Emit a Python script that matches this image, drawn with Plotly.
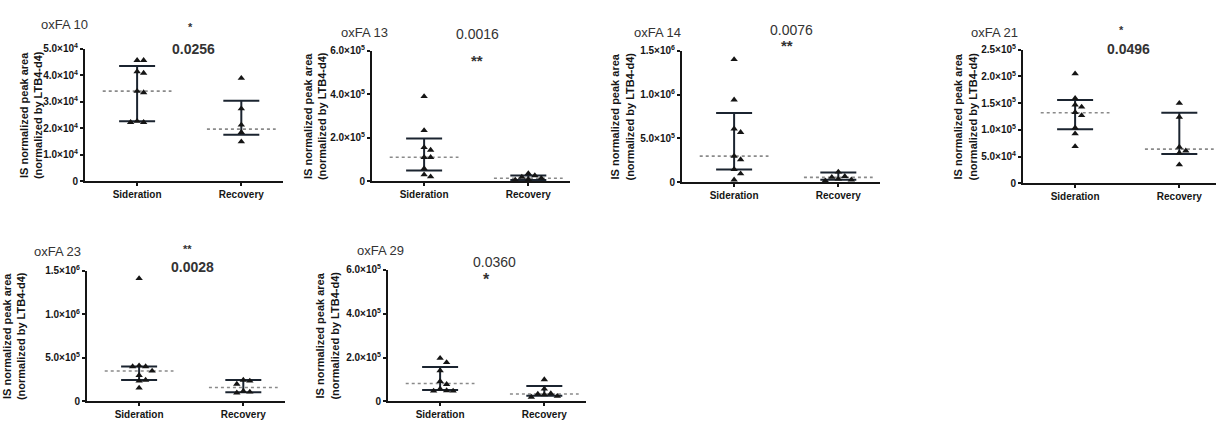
import plotly.graph_objects as go

W, H = 1217, 423
FONT = "Liberation Sans, Arial, sans-serif"

categories = ["Sideration", "Recovery"]
panel_titles = ["oxFA 10", "oxFA 13", "oxFA 14", "oxFA 21", "oxFA 23", "oxFA 29"]

# ---- data ----
sid_10 = [4.56e4, 4.56e4, 4.14e4, 4.08e4, 3.40e4, 3.35e4, 2.27e4, 2.23e4, 2.23e4]
rec_10 = [3.89e4, 2.74e4, 2.13e4, 1.85e4, 1.50e4]
med_10 = [3.40e4, 1.97e4]
q1_10 = [2.27e4, 1.76e4]
q3_10 = [4.35e4, 3.04e4]

sid_13 = [3.9e5, 2.34e5, 1.56e5, 1.44e5, 1.11e5, 1.11e5, 0.59e5, 0.31e5, 0.22e5]
rec_13 = [0.37e5, 0.27e5, 0.20e5, 0.15e5, 0.10e5, 0.07e5]
med_13 = [1.11e5, 0.15e5]
q1_13 = [0.50e5, 0.07e5]
q3_13 = [1.97e5, 0.27e5]

sid_14 = [1.40e6, 0.94e6, 0.61e6, 0.57e6, 0.30e6, 0.26e6, 0.15e6, 0.10e6, 0.03e6]
rec_14 = [0.12e6, 0.07e6, 0.06e6, 0.04e6, 0.03e6, 0.02e6]
med_14 = [0.30e6, 0.058e6]
q1_14 = [0.147e6, 0.03e6]
q3_14 = [0.79e6, 0.113e6]

sid_21 = [2.05e5, 1.59e5, 1.47e5, 1.43e5, 1.33e5, 1.27e5, 1.04e5, 0.93e5, 0.69e5]
rec_21 = [1.50e5, 1.24e5, 0.68e5, 0.61e5, 0.57e5, 0.35e5]
med_21 = [1.32e5, 0.64e5]
q1_21 = [1.01e5, 0.55e5]
q3_21 = [1.56e5, 1.32e5]

sid_23 = [1.41e6, 0.41e6, 0.40e6, 0.40e6, 0.35e6, 0.30e6, 0.245e6, 0.235e6, 0.155e6]
rec_23 = [0.245e6, 0.235e6, 0.20e6, 0.12e6, 0.11e6, 0.10e6]
med_23 = [0.35e6, 0.16e6]
q1_23 = [0.245e6, 0.105e6]
q3_23 = [0.40e6, 0.245e6]

sid_29 = [1.97e5, 1.78e5, 1.41e5, 0.92e5, 0.78e5, 0.57e5, 0.50e5, 0.48e5, 0.48e5]
rec_29 = [1.0e5, 0.57e5, 0.36e5, 0.34e5, 0.31e5, 0.24e5, 0.20e5]
med_29 = [0.82e5, 0.34e5]
q1_29 = [0.52e5, 0.26e5]
q3_29 = [1.57e5, 0.70e5]

ticks_10 = [0, 1e4, 2e4, 3e4, 4e4, 5e4]
ticklabels_10 = ["0", "1.0×10<sup>4</sup>", "2.0×10<sup>4</sup>", "3.0×10<sup>4</sup>", "4.0×10<sup>4</sup>", "5.0×10<sup>4</sup>"]
ticks_13 = [0, 2e5, 4e5, 6e5]
ticklabels_13 = ["0", "2.0×10<sup>5</sup>", "4.0×10<sup>5</sup>", "6.0×10<sup>5</sup>"]
ticks_14 = [0, 5e5, 1e6, 1.5e6]
ticklabels_14 = ["0", "5.0×10<sup>5</sup>", "1.0×10<sup>6</sup>", "1.5×10<sup>6</sup>"]
ticks_21 = [0, 5e4, 1e5, 1.5e5, 2e5, 2.5e5]
ticklabels_21 = ["0", "5.0×10<sup>4</sup>", "1.0×10<sup>5</sup>", "1.5×10<sup>5</sup>", "2.0×10<sup>5</sup>", "2.5×10<sup>5</sup>"]
ticks_23 = [0, 5e5, 1e6, 1.5e6]
ticklabels_23 = ["0", "5.0×10<sup>5</sup>", "1.0×10<sup>6</sup>", "1.5×10<sup>6</sup>"]
ticks_29 = [0, 2e5, 4e5, 6e5]
ticklabels_29 = ["0", "2.0×10<sup>5</sup>", "4.0×10<sup>5</sup>", "6.0×10<sup>5</sup>"]

p_values = ["0.0256", "0.0016", "0.0076", "0.0496", "0.0028", "0.0360"]
stars = ["*", "**", "**", "*", "**", "*"]

panels = [
    dict(sid=sid_10, rec=rec_10, med=med_10, q1=q1_10, q3=q3_10, ticks=ticks_10, labels=ticklabels_10),
    dict(sid=sid_13, rec=rec_13, med=med_13, q1=q1_13, q3=q3_13, ticks=ticks_13, labels=ticklabels_13),
    dict(sid=sid_14, rec=rec_14, med=med_14, q1=q1_14, q3=q3_14, ticks=ticks_14, labels=ticklabels_14),
    dict(sid=sid_21, rec=rec_21, med=med_21, q1=q1_21, q3=q3_21, ticks=ticks_21, labels=ticklabels_21),
    dict(sid=sid_23, rec=rec_23, med=med_23, q1=q1_23, q3=q3_23, ticks=ticks_23, labels=ticklabels_23),
    dict(sid=sid_29, rec=rec_29, med=med_29, q1=q1_29, q3=q3_29, ticks=ticks_29, labels=ticklabels_29),
]

# ---- layout geometry (pixels) ----
# (axis x start, axis x end, y of zero, y of top tick)
geom = [
    (85, 283, 180, 43),
    (372, 570, 180, 45),
    (682, 880, 181, 45),
    (1023, 1216, 182, 44),
    (87, 285, 407, 272),
    (388, 586, 407, 271),
]
UNIT_PX = 198 / 1.9  # pixels per category unit
ytitle_x = [31, 315, 622, 965, 14, 327]
title_pos = [(39, 18), (339, 26), (632, 26), (969, 26), (32, 252), (355, 251)]
# (star x, star y, star size, p x, p y, p size, p bold)
sig_pos = [
    (190, 21, 11, 193, 43, 14, True),
    (477, 55, 15, 477, 28, 14, False),
    (787, 40, 15, 791, 24, 14, False),
    (1121, 24, 11, 1128, 43, 14, True),
    (187, 250, 11, 192, 268, 14, True),
    (486, 281, 16, 494, 263, 14, False),
]

INK = "#151515"
BAR = "#1b2430"
MED = "#8a8a8a"


def swarm(values, px_per_val, size=6.5, step=6.5):
    placed = []
    offs = []
    for v in values:
        yp = v * px_per_val
        chosen = 0.0
        for k in [0, 1, -1, 2, -2, 3, -3]:
            xp = k * step
            if all(abs(xp - a) >= size * 0.85 or abs(yp - b) >= size * 0.85 for a, b in placed):
                chosen = xp
                break
        placed.append((chosen, yp))
        offs.append(chosen / UNIT_PX)
    return offs


fig = go.Figure()
annotations = []

for i, (p, g) in enumerate(zip(panels, geom)):
    n = i + 1
    xs, xe, yz, yt = g
    xa = "x" if n == 1 else f"x{n}"
    ya = "y" if n == 1 else f"y{n}"
    top = p["ticks"][-1]
    px_per_val = (yz - yt) / top
    xr_end = -0.5 + (xe - xs) / UNIT_PX

    for ci, vals in enumerate([p["sid"], p["rec"]]):
        # median (dotted grey line)
        fig.add_trace(go.Scatter(
            x=[ci - 0.33, ci + 0.33], y=[p["med"][ci]] * 2, mode="lines",
            line=dict(color=MED, width=1.6, dash="dot"), xaxis=xa, yaxis=ya,
            hoverinfo="skip", cliponaxis=False))
        # interquartile range whisker
        fig.add_trace(go.Scatter(
            x=[ci], y=[p["med"][ci]], mode="markers", marker=dict(size=1, color="rgba(0,0,0,0)"),
            error_y=dict(type="data", symmetric=False,
                         array=[p["q3"][ci] - p["med"][ci]],
                         arrayminus=[p["med"][ci] - p["q1"][ci]],
                         color=BAR, thickness=2, width=18),
            xaxis=xa, yaxis=ya, cliponaxis=False))
        # individual values
        offs = swarm(vals, px_per_val)
        fig.add_trace(go.Scatter(
            x=[ci + o for o in offs], y=vals, mode="markers",
            marker=dict(symbol="triangle-up", size=6.5, color=INK),
            xaxis=xa, yaxis=ya, cliponaxis=False))

    xkey = "xaxis" if n == 1 else f"xaxis{n}"
    ykey = "yaxis" if n == 1 else f"yaxis{n}"
    fig.update_layout(**{
        xkey: dict(domain=[xs / W, xe / W], anchor=ya, range=[-0.5, xr_end],
                   tickvals=[0, 1], ticktext=categories, showline=True, linewidth=2,
                   linecolor=INK, ticks="outside", ticklen=3, tickwidth=1.5, tickcolor=INK,
                   showgrid=False, zeroline=False,
                   tickfont=dict(family=FONT, size=10, color=INK, weight="bold")),
        ykey: dict(domain=[1 - yz / H, 1 - yt / H], anchor=xa, range=[0, top],
                   tickvals=p["ticks"], ticktext=p["labels"], showline=True, linewidth=2,
                   linecolor=INK, ticks="outside", ticklen=3, tickwidth=1.5, tickcolor=INK,
                   showgrid=False, zeroline=False,
                   tickfont=dict(family=FONT, size=10, color=INK, weight="bold")),
    })

    annotations.append(dict(
        text="IS normalized peak area<br>(normalized by LTB4-d4)", textangle=-90,
        x=ytitle_x[i] / W, y=1 - (yz + yt) / 2 / H, xref="paper", yref="paper",
        xanchor="center", yanchor="middle", showarrow=False,
        font=dict(family=FONT, size=11, color=INK, weight="bold")))
    tx, ty = title_pos[i]
    annotations.append(dict(
        text=panel_titles[i], x=tx / W, y=1 - ty / H, xref="paper", yref="paper",
        xanchor="left", yanchor="middle", showarrow=False,
        font=dict(family=FONT, size=13, color="#333333")))
    sx, sy, ss, ppx, ppy, ps, pb = sig_pos[i]
    annotations.append(dict(
        text=stars[i], x=sx / W, y=1 - sy / H, xref="paper", yref="paper",
        xanchor="center", yanchor="middle", showarrow=False,
        font=dict(family=FONT, size=ss, color="#333333", weight="bold")))
    annotations.append(dict(
        text=p_values[i], x=ppx / W, y=1 - ppy / H, xref="paper", yref="paper",
        xanchor="center", yanchor="middle", showarrow=False,
        font=dict(family=FONT, size=ps, color="#333333", weight="bold" if pb else "normal")))

fig.update_layout(
    width=W, height=H, margin=dict(l=0, r=0, t=0, b=0),
    paper_bgcolor="white", plot_bgcolor="white", showlegend=False,
    annotations=annotations,
)

fig.write_html(
    "out.html",
    config={"displayModeBar": False},
    post_script="document.body.style.margin='0';document.body.style.overflow='hidden';",
)
